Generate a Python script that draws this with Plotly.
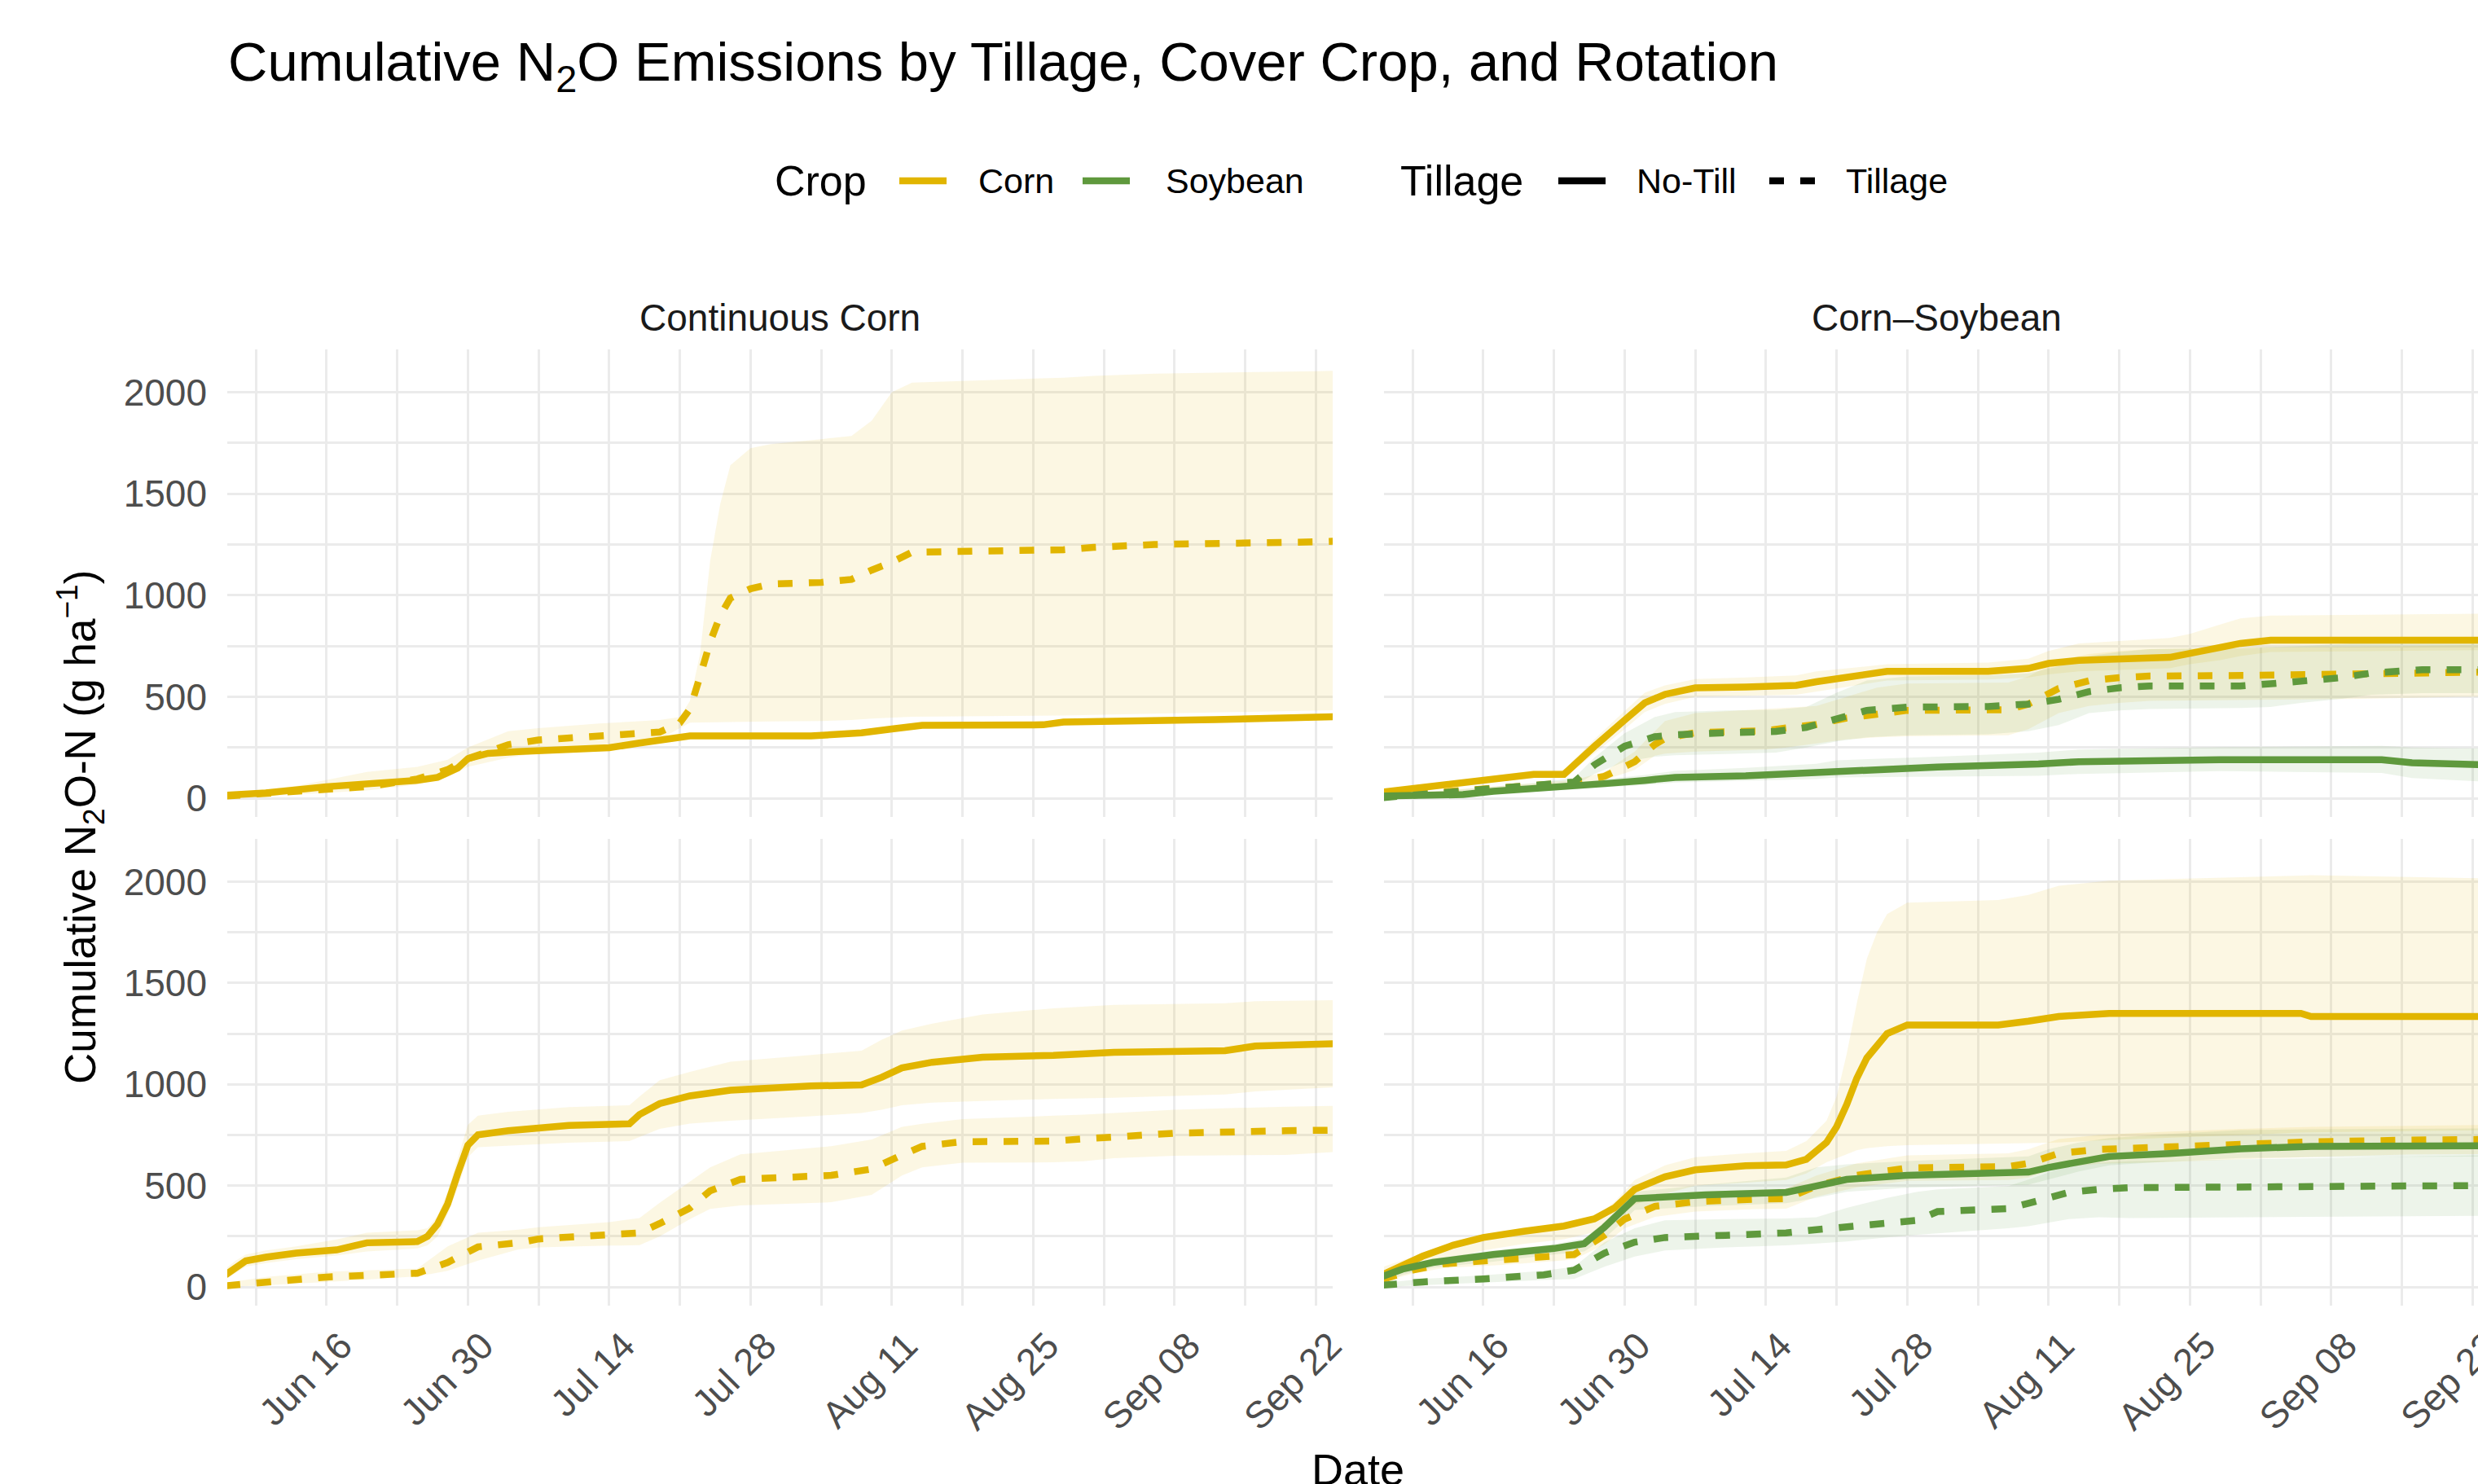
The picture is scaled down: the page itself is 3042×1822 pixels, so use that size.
import pandas as pd
import plotly.graph_objects as go

# ---------------- data (day offsets from Jun 6) ----------------
BASE_DATE = "2023-06-06"

# Continuous Corn, top row
tl_corn_nt_day = [0, 4, 10, 16, 19, 21, 23, 24, 26, 29, 38, 41, 44, 46, 58, 63, 66, 69, 81, 83, 98, 110]
tl_corn_nt_mean = [15, 26, 57, 72, 88, 103, 149, 195, 221, 230, 249, 272, 298, 307, 307, 322, 341, 359, 362, 375, 387, 402]
tl_corn_nt_lo = [8, 18, 46, 60, 76, 90, 132, 178, 206, 216, 235, 258, 284, 294, 294, 308, 326, 344, 347, 359, 371, 385]
tl_corn_nt_hi = [22, 34, 68, 84, 100, 116, 166, 212, 236, 244, 263, 286, 312, 320, 320, 336, 356, 374, 377, 391, 403, 419]

tl_corn_t_day = [0, 7, 14, 19, 22, 24, 28, 31, 37, 43, 45, 46, 47, 48, 49, 50, 52, 54, 59, 62, 64, 66, 68, 83, 86, 92, 108, 110]
tl_corn_t_mean = [11, 34, 57, 95, 141, 195, 264, 287, 303, 326, 372, 440, 600, 770, 900, 986, 1032, 1055, 1063, 1078, 1124, 1163, 1212, 1224, 1236, 1250, 1263, 1267]
tl_corn_t_hi = [20, 60, 130, 155, 190, 250, 330, 345, 368, 385, 400, 480, 710, 1170, 1450, 1640, 1725, 1745, 1769, 1785, 1860, 2000, 2048, 2072, 2081, 2092, 2104, 2106]
tl_corn_t_lo = [2, 18, 38, 68, 105, 155, 200, 222, 238, 290, 345, 372, 372, 372, 373, 374, 376, 378, 380, 385, 392, 398, 402, 408, 412, 418, 432, 434]

# Corn-Soybean, top row
tr_corn_nt_day = [0, 4, 8, 11, 15, 18, 19, 21, 24, 26, 28, 31, 36, 41, 43, 48, 50, 60, 64, 66, 69, 78, 80, 83, 85, 88, 110]
tr_corn_nt_mean = [30, 52, 72, 95, 118, 118, 165, 255, 385, 470, 512, 544, 548, 556, 574, 610, 625, 625, 640, 664, 679, 694, 717, 743, 763, 779, 779]
tr_corn_nt_hi = [40, 65, 88, 112, 136, 140, 190, 290, 430, 520, 556, 587, 595, 605, 625, 648, 660, 668, 687, 725, 763, 790, 810, 856, 886, 900, 910]
tr_corn_nt_lo = [20, 40, 58, 80, 100, 100, 140, 220, 340, 425, 465, 500, 505, 510, 525, 565, 580, 585, 595, 610, 625, 640, 660, 680, 700, 720, 730]

tr_corn_t_day = [0, 10, 19, 22, 25, 27, 28, 31, 38, 40, 43, 46, 49, 52, 62, 64, 67, 70, 73, 76, 86, 97, 102, 107, 110]
tr_corn_t_mean = [10, 45, 78, 108, 180, 265, 295, 323, 333, 346, 364, 395, 418, 433, 436, 464, 541, 579, 594, 602, 605, 610, 617, 621, 622]
tr_corn_t_hi = [15, 55, 90, 130, 230, 330, 380, 420, 441, 445, 455, 500, 545, 565, 570, 600, 680, 710, 725, 735, 740, 745, 750, 755, 756]
tr_corn_t_lo = [5, 35, 66, 90, 140, 210, 220, 230, 240, 250, 270, 290, 300, 305, 310, 340, 420, 455, 470, 480, 485, 490, 495, 500, 500]

tr_soy_nt_day = [0, 8, 11, 15, 19, 22, 26, 29, 36, 43, 45, 55, 65, 69, 83, 99, 102, 110]
tr_soy_nt_mean = [11, 18, 34, 46, 57, 72, 88, 103, 111, 126, 138, 154, 169, 180, 190, 190, 175, 164]
tr_soy_nt_hi = [20, 30, 48, 62, 75, 95, 115, 135, 150, 170, 187, 205, 225, 240, 252, 258, 250, 245]
tr_soy_nt_lo = [4, 8, 22, 32, 42, 52, 65, 78, 85, 95, 103, 108, 111, 120, 134, 125, 100, 80]

tr_soy_t_day = [0, 8, 15, 19, 21, 24, 27, 29, 34, 39, 42, 45, 48, 52, 60, 64, 67, 70, 73, 76, 85, 88, 91, 95, 98, 103, 110]
tr_soy_t_mean = [3, 34, 60, 80, 164, 256, 303, 313, 323, 329, 349, 395, 433, 449, 452, 464, 487, 525, 544, 553, 553, 564, 574, 594, 617, 633, 633]
tr_soy_t_hi = [10, 45, 75, 100, 200, 320, 400, 425, 433, 436, 450, 520, 580, 600, 605, 615, 650, 700, 720, 735, 740, 745, 750, 760, 770, 775, 775]
tr_soy_t_lo = [0, 22, 45, 60, 120, 180, 205, 212, 218, 225, 250, 280, 300, 310, 315, 330, 360, 420, 433, 440, 445, 450, 470, 490, 510, 518, 518]

# Continuous Corn, bottom row
bl_corn_nt_day = [0, 1, 2, 4, 7, 11, 14, 19, 20, 21, 22, 23, 24, 25, 28, 34, 40, 41, 43, 46, 50, 58, 63, 65, 67, 70, 75, 82, 88, 99, 102, 110]
bl_corn_nt_mean = [60, 98, 129, 147, 167, 183, 218, 224, 250, 310, 410, 560, 700, 751, 771, 797, 805, 851, 905, 943, 971, 992, 997, 1035, 1081, 1109, 1134, 1143, 1158, 1166, 1189, 1201]
bl_corn_nt_hi = [90, 130, 160, 180, 200, 235, 268, 280, 290, 350, 470, 640, 800, 845, 865, 888, 897, 940, 1020, 1062, 1112, 1145, 1166, 1220, 1265, 1300, 1345, 1375, 1392, 1400, 1410, 1415]
bl_corn_nt_lo = [37, 70, 100, 118, 137, 155, 175, 190, 205, 250, 360, 490, 640, 690, 697, 712, 720, 740, 780, 806, 820, 842, 859, 875, 897, 910, 918, 928, 934, 950, 965, 986]

bl_corn_t_day = [0, 4, 10, 19, 22, 25, 29, 31, 38, 41, 43, 46, 48, 51, 60, 64, 67, 69, 73, 82, 85, 88, 94, 105, 110]
bl_corn_t_mean = [6, 25, 49, 68, 121, 198, 218, 237, 255, 267, 313, 390, 475, 531, 551, 582, 651, 694, 717, 720, 731, 743, 759, 771, 774]
bl_corn_t_hi = [20, 50, 75, 91, 200, 268, 283, 295, 320, 340, 415, 520, 590, 655, 695, 728, 790, 805, 828, 845, 850, 859, 875, 890, 894]
bl_corn_t_lo = [0, 8, 25, 52, 80, 130, 185, 195, 204, 206, 250, 335, 385, 402, 418, 455, 550, 590, 613, 615, 620, 635, 648, 652, 667]

# Corn-Soybean, bottom row
br_corn_nt_day = [0, 2, 4, 7, 10, 14, 18, 21, 23, 25, 28, 31, 36, 40, 42, 44, 45, 46, 47, 48, 49, 50, 52, 61, 64, 67, 72, 91, 92, 110]
br_corn_nt_mean = [60, 106, 152, 206, 244, 275, 301, 336, 390, 482, 544, 578, 598, 602, 630, 713, 790, 900, 1030, 1130, 1195, 1250, 1293, 1293, 1312, 1335, 1350, 1350, 1335, 1335]
br_corn_nt_hi = [98, 130, 165, 205, 240, 270, 290, 340, 420, 528, 600, 640, 660, 672, 720, 820, 940, 1150, 1400, 1620, 1750, 1840, 1896, 1910, 1935, 1980, 2005, 2030, 2032, 2016]
br_corn_nt_lo = [37, 80, 110, 140, 180, 212, 236, 270, 330, 405, 460, 500, 515, 528, 560, 615, 635, 655, 675, 685, 690, 695, 700, 708, 710, 713, 725, 762, 763, 774]

br_corn_t_day = [0, 3, 6, 12, 19, 22, 24, 27, 31, 37, 40, 43, 47, 52, 62, 64, 67, 71, 77, 85, 92, 102, 110]
br_corn_t_mean = [37, 83, 114, 132, 160, 255, 335, 398, 421, 433, 436, 498, 551, 587, 594, 610, 659, 679, 690, 705, 716, 725, 728]
br_corn_t_hi = [50, 100, 135, 155, 185, 300, 400, 450, 470, 482, 486, 550, 610, 650, 660, 680, 730, 750, 765, 780, 790, 795, 800]
br_corn_t_lo = [25, 66, 93, 109, 135, 210, 290, 346, 372, 384, 386, 446, 492, 524, 528, 540, 588, 608, 615, 630, 642, 655, 656]

br_soy_nt_day = [0, 2, 5, 11, 17, 20, 22, 24, 25, 32, 40, 43, 46, 52, 64, 66, 69, 72, 78, 85, 92, 110]
br_soy_nt_mean = [52, 88, 121, 160, 190, 214, 295, 382, 436, 455, 467, 498, 531, 551, 567, 590, 613, 644, 659, 682, 694, 697]
br_soy_nt_hi = [68, 105, 140, 180, 210, 240, 320, 420, 470, 505, 540, 590, 605, 621, 645, 680, 713, 735, 755, 774, 778, 782]
br_soy_nt_lo = [21, 60, 95, 125, 160, 175, 240, 330, 380, 398, 413, 440, 470, 490, 505, 530, 570, 600, 620, 636, 640, 644]

br_soy_t_day = [0, 4, 10, 16, 19, 22, 25, 28, 34, 40, 43, 46, 50, 53, 55, 62, 64, 68, 71, 74, 110]
br_soy_t_mean = [9, 25, 40, 60, 83, 167, 221, 244, 255, 267, 283, 295, 310, 329, 372, 387, 413, 467, 482, 490, 501]
br_soy_t_hi = [20, 40, 58, 80, 100, 220, 290, 329, 335, 338, 344, 390, 440, 470, 482, 498, 530, 600, 612, 620, 651]
br_soy_t_lo = [0, 10, 22, 35, 40, 100, 150, 180, 195, 205, 214, 225, 245, 258, 267, 290, 300, 335, 344, 340, 352]

crop_names = ["Corn", "Soybean"]
tillage_names = ["No-Till", "Tillage"]
rotation_names = ["Continuous Corn", "Corn\u2013Soybean"]
x_tick_labels_fmt = "%b %d"
y_ticks = [0, 500, 1000, 1500, 2000]

# ---------------- styling / layout ----------------
W, H = 3060, 1822
CORN = "#E1B500"
SOY = "#5F993D"
FILL = {CORN: "rgba(225,181,0,0.11)", SOY: "rgba(95,153,61,0.11)"}
FONT = "Liberation Sans, Arial, sans-serif"
GRID = "#EBEBEB"
DASH = {"No-Till": "solid", "Tillage": "18px,20px"}
LW = 8.5

def fx(p):
    return p / W

def fy(p):
    return 1 - p / H

base = pd.Timestamp(BASE_DATE)

def to_dates(days):
    return [base + pd.Timedelta(days=d) for d in days]

PANEL_X = {"L": (279, 1636), "R": (1699, 3056)}
PANEL_Y = {"T": (429, 1003), "B": (1030, 1603)}
AX = {("L", "B"): ("x", "y"), ("R", "B"): ("x2", "y2"),
      ("L", "T"): ("x3", "y3"), ("R", "T"): ("x4", "y4")}

series = [
    ("L", "T", CORN, "No-Till", tl_corn_nt_day, tl_corn_nt_mean, tl_corn_nt_lo, tl_corn_nt_hi),
    ("L", "T", CORN, "Tillage", tl_corn_t_day, tl_corn_t_mean, tl_corn_t_lo, tl_corn_t_hi),
    ("R", "T", CORN, "No-Till", tr_corn_nt_day, tr_corn_nt_mean, tr_corn_nt_lo, tr_corn_nt_hi),
    ("R", "T", CORN, "Tillage", tr_corn_t_day, tr_corn_t_mean, tr_corn_t_lo, tr_corn_t_hi),
    ("R", "T", SOY, "No-Till", tr_soy_nt_day, tr_soy_nt_mean, tr_soy_nt_lo, tr_soy_nt_hi),
    ("R", "T", SOY, "Tillage", tr_soy_t_day, tr_soy_t_mean, tr_soy_t_lo, tr_soy_t_hi),
    ("L", "B", CORN, "No-Till", bl_corn_nt_day, bl_corn_nt_mean, bl_corn_nt_lo, bl_corn_nt_hi),
    ("L", "B", CORN, "Tillage", bl_corn_t_day, bl_corn_t_mean, bl_corn_t_lo, bl_corn_t_hi),
    ("R", "B", CORN, "No-Till", br_corn_nt_day, br_corn_nt_mean, br_corn_nt_lo, br_corn_nt_hi),
    ("R", "B", CORN, "Tillage", br_corn_t_day, br_corn_t_mean, br_corn_t_lo, br_corn_t_hi),
    ("R", "B", SOY, "No-Till", br_soy_nt_day, br_soy_nt_mean, br_soy_nt_lo, br_soy_nt_hi),
    ("R", "B", SOY, "Tillage", br_soy_t_day, br_soy_t_mean, br_soy_t_lo, br_soy_t_hi),
]

fig = go.Figure()

for col, row, color, till, day, mean, lo, hi in series:
    xa, ya = AX[(col, row)]
    d = to_dates(day)
    fig.add_trace(go.Scatter(
        x=d + d[::-1], y=list(hi) + list(lo)[::-1], fill="toself",
        fillcolor=FILL[color], line=dict(width=0), mode="lines",
        hoverinfo="skip", showlegend=False, xaxis=xa, yaxis=ya))

for col, row, color, till, day, mean, lo, hi in series:
    xa, ya = AX[(col, row)]
    crop = "Corn" if color == CORN else "Soybean"
    fig.add_trace(go.Scatter(
        x=to_dates(day), y=mean, mode="lines", name=f"{crop}, {till}",
        line=dict(color=color, width=LW, dash=DASH[till]),
        showlegend=False, xaxis=xa, yaxis=ya))

x_range = [base + pd.Timedelta(hours=4), base + pd.Timedelta(days=109, hours=16)]
DAY_MS = 86400000
TICKFONT = dict(family=FONT, size=46, color="#4D4D4D")

def xaxis_cfg(col, labels):
    return dict(
        domain=[fx(PANEL_X[col][0]), fx(PANEL_X[col][1])],
        range=x_range, type="date", automargin=False,
        tickmode="linear", tick0="2023-06-16", dtick=14 * DAY_MS,
        tickformat=x_tick_labels_fmt, tickangle=-45,
        showticklabels=labels, ticks="", showline=False, zeroline=False,
        showgrid=True, gridcolor=GRID, gridwidth=2.5,
        minor=dict(tickmode="linear", tick0="2023-06-09", dtick=7 * DAY_MS,
                   showgrid=True, gridcolor=GRID, gridwidth=2.5, ticks=""),
        tickfont=TICKFONT, ticklabelstandoff=12, ticklabelshift=18,
        ticklabeloverflow="allow",
        fixedrange=True,
    )

def yaxis_cfg(row, anchor, labels):
    return dict(
        domain=[fy(PANEL_Y[row][1]), fy(PANEL_Y[row][0])],
        range=[-92, 2211], anchor=anchor, automargin=False,
        tickmode="array", tickvals=y_ticks, ticktext=[str(v) for v in y_ticks],
        showticklabels=labels, ticks="", showline=False, zeroline=False,
        showgrid=True, gridcolor=GRID, gridwidth=3,
        minor=dict(tickmode="linear", tick0=250, dtick=500,
                   showgrid=True, gridcolor=GRID, gridwidth=2.5, ticks=""),
        tickfont=TICKFONT, ticklabelstandoff=24,
        fixedrange=True,
    )

fig.update_layout(
    width=W, height=H, autosize=False,
    margin=dict(l=0, r=0, t=0, b=0, autoexpand=False),
    paper_bgcolor="white", plot_bgcolor="white",
    font=dict(family=FONT, color="black"),
    showlegend=False,
    xaxis=dict(xaxis_cfg("L", True), anchor="y"),
    xaxis2=dict(xaxis_cfg("R", True), anchor="y2"),
    xaxis3=dict(xaxis_cfg("L", False), anchor="y3"),
    xaxis4=dict(xaxis_cfg("R", False), anchor="y4"),
    yaxis=yaxis_cfg("B", "x", True),
    yaxis2=yaxis_cfg("B", "x2", False),
    yaxis3=yaxis_cfg("T", "x3", True),
    yaxis4=yaxis_cfg("T", "x4", False),
)

# ---------------- legend (drawn as keys + labels) ----------------
LEG_Y = 222
legend_titles = [("Crop", 949), ("Tillage", 1717)]
legend_keys = [  # (label, color, dash, key x0, key x1, label x)
    (crop_names[0], CORN, "solid", 1104, 1162, 1199),
    (crop_names[1], SOY, "solid", 1329, 1387, 1429),
    (tillage_names[0], "black", DASH["No-Till"], 1913, 1971, 2007),
    (tillage_names[1], "black", DASH["Tillage"], 2172, 2230, 2264),
]
shapes = []
annotations = []
for txt, x0 in legend_titles:
    annotations.append(dict(text=txt, x=fx(x0), y=fy(LEG_Y), xanchor="left", yanchor="middle",
                            font=dict(size=52, family=FONT, color="black")))
for txt, color, dash, k0, k1, tx in legend_keys:
    shapes.append(dict(type="line", xref="paper", yref="paper",
                       x0=fx(k0), x1=fx(k1), y0=fy(LEG_Y), y1=fy(LEG_Y),
                       line=dict(color=color, width=LW, dash=dash)))
    annotations.append(dict(text=txt, x=fx(tx), y=fy(LEG_Y), xanchor="left", yanchor="middle",
                            font=dict(size=43, family=FONT, color="black")))

annotations += [
    dict(text="Cumulative N<sub>2</sub>O Emissions by Tillage, Cover Crop, and Rotation",
         x=fx(278), y=fy(81), xanchor="left", yanchor="middle",
         font=dict(size=67, family=FONT, color="black")),
    dict(text=rotation_names[0], x=fx(sum(PANEL_X["L"]) / 2), y=fy(390),
         xanchor="center", yanchor="middle", font=dict(size=46, family=FONT, color="#1A1A1A")),
    dict(text=rotation_names[1], x=fx(sum(PANEL_X["R"]) / 2), y=fy(390),
         xanchor="center", yanchor="middle", font=dict(size=46, family=FONT, color="#1A1A1A")),
    dict(text="Cumulative N<sub>2</sub>O-N (g ha<sup>\u22121</sup>)", textangle=-90,
         x=fx(98), y=fy(1016), xanchor="center", yanchor="middle",
         font=dict(size=53, family=FONT, color="black")),
    dict(text="Date", x=fx(1667), y=fy(1772), xanchor="center", yanchor="top",
         font=dict(size=54, family=FONT, color="black")),
]
for a in annotations:
    a.update(xref="paper", yref="paper", showarrow=False)
fig.update_layout(annotations=annotations, shapes=shapes)

fig.write_html(
    "out.html", include_plotlyjs=True,
    config={"displayModeBar": False},
    post_script="document.body.style.margin='0';document.body.style.overflow='hidden';",
)
